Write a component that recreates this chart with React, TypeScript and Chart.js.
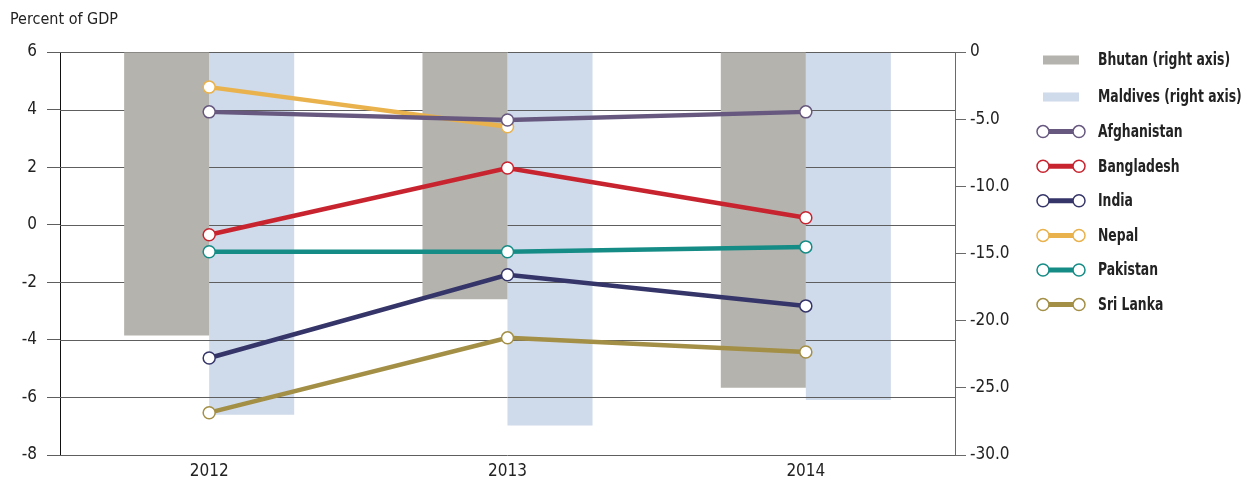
import React, { useEffect, useRef } from 'react';
import { Chart, registerables } from 'chart.js';
Chart.register(...registerables);

const years = ['2012', '2013', '2014'];
// right axis (bars)
const bhutan = [-21.1, -18.4, -25.0];
const maldives = [-27.0, -27.8, -25.9];
// left axis (lines)
const afghanistan = [3.92, 3.64, 3.92];
const bangladesh = [-0.35, 1.97, 0.24];
const india = [-4.63, -1.74, -2.82];
const nepal = [4.78, 3.4, null];
const pakistan = [-0.94, -0.94, -0.77];
const sriLanka = [-6.53, -3.93, -4.42];

const leftMin = -8, leftMax = 6, leftStep = 2;
const rightMin = -30, rightMax = 0, rightStep = 5;

const titleText = 'Percent of GDP';
const FONT = "'Liberation Sans Narrow', 'DejaVu Sans Condensed', 'Roboto', sans-serif";

const lineSeries = [
  { label: 'Afghanistan', data: afghanistan, color: '#66587f' },
  { label: 'Bangladesh', data: bangladesh, color: '#c8242f' },
  { label: 'India', data: india, color: '#35356a' },
  { label: 'Nepal', data: nepal, color: '#e9b24c' },
  { label: 'Pakistan', data: pakistan, color: '#168c86' },
  { label: 'Sri Lanka', data: sriLanka, color: '#a38f45' },
];

const gridPlugin = {
  id: 'midGrid',
  afterDatasetDraw(chart: any, args: any) {
    if (args.index !== 1) return;
    const { ctx, chartArea } = chart;
    const y = chart.scales.y;
    ctx.save();
    ctx.strokeStyle = '#5e5e5e';
    ctx.lineWidth = 1;
    y.ticks.forEach((t: any) => {
      const py = Math.round(y.getPixelForValue(t.value)) + 0.5;
      ctx.beginPath();
      ctx.moveTo(chartArea.left, py);
      ctx.lineTo(chartArea.right, py);
      ctx.stroke();
    });
    ctx.restore();
  },
};

const decorPlugin = {
  id: 'decor',
  afterDraw(chart: any) {
    const { ctx, chartArea } = chart;
    ctx.save();
    // title
    ctx.font = `16px ${FONT}`;
    ctx.fillStyle = '#222';
    ctx.textBaseline = 'middle';
    ctx.textAlign = 'left';
    ctx.fillText(titleText, 10, 20);
    // legend
    const x0 = chartArea.right + 88;
    const x1 = chartArea.right + 124;
    const tx = chartArea.right + 143;
    chart.data.datasets.forEach((ds: any, i: number) => {
      const yy = i === 0 ? chartArea.top + 8 : chartArea.top + 45 + (i - 1) * 34.6;
      if (ds.type === 'bar') {
        ctx.fillStyle = ds.backgroundColor;
        ctx.fillRect(x0, yy - 4.5, x1 - x0, 9);
      } else {
        ctx.strokeStyle = ds.borderColor;
        ctx.lineWidth = 5;
        ctx.beginPath();
        ctx.moveTo(x0, yy);
        ctx.lineTo(x1, yy);
        ctx.stroke();
        [x0, x1].forEach((cx) => {
          ctx.beginPath();
          ctx.arc(cx, yy, 6, 0, Math.PI * 2);
          ctx.fillStyle = '#fff';
          ctx.fill();
          ctx.lineWidth = 1.5;
          ctx.stroke();
        });
      }
      ctx.save();
      ctx.translate(tx, yy + 1);
      ctx.scale(0.81, 1);
      ctx.fillStyle = '#222';
      ctx.font = `bold 17px ${FONT}`;
      ctx.textBaseline = 'middle';
      ctx.fillText(ds.label, 0, 0);
      ctx.restore();
    });
    ctx.restore();
  },
};

export default function App() {
  const ref = useRef<HTMLCanvasElement>(null);
  useEffect(() => {
    document.body.style.margin = '0';
    const chart = new Chart(ref.current as HTMLCanvasElement, {
      type: 'bar',
      data: {
        labels: years,
        datasets: [
          {
            type: 'bar', label: 'Bhutan (right axis)', data: bhutan, yAxisID: 'y2',
            backgroundColor: '#b5b3ad', borderWidth: 0, order: 2,
            categoryPercentage: 0.57, barPercentage: 1.0,
          } as any,
          {
            type: 'bar', label: 'Maldives (right axis)', data: maldives, yAxisID: 'y2',
            backgroundColor: '#cfdaea', borderWidth: 0, order: 3,
            categoryPercentage: 0.57, barPercentage: 1.0,
          } as any,
          ...lineSeries.map((s) => ({
            type: 'line', label: s.label, data: s.data, yAxisID: 'y',
            borderColor: s.color, backgroundColor: '#fff', borderWidth: 4.5,
            pointRadius: 6, pointBorderWidth: 1.5, pointBackgroundColor: '#fff',
            pointBorderColor: s.color, tension: 0, order: 1, spanGaps: false,
          } as any)),
        ],
      },
      options: {
        responsive: false,
        animation: false,
        font: { family: FONT },
        layout: { padding: { left: 0, right: 232, top: 52, bottom: 0 } },
        plugins: { legend: { display: false }, tooltip: { enabled: false }, title: { display: false } },
        scales: {
          x: {
            type: 'category', offset: true,
            grid: { display: false, drawTicks: false },
            border: { display: false },
            ticks: { font: { family: FONT, size: 17 }, color: '#222', padding: 6, maxRotation: 0 },
            afterFit: (s: any) => { s.height = 25; },
          },
          y: {
            type: 'linear', position: 'left', min: leftMin, max: leftMax,
            ticks: { stepSize: leftStep, font: { family: FONT, size: 17 }, color: '#222', padding: 10 },
            grid: { drawOnChartArea: false, drawTicks: true, tickLength: 13, color: '#5e5e5e' },
            border: { display: true, color: '#111', width: 1 },
            afterFit: (s: any) => { s.width = 60; },
          },
          y2: {
            type: 'linear', position: 'right', min: rightMin, max: rightMax,
            ticks: {
              stepSize: rightStep, font: { family: FONT, size: 17 }, color: '#222', padding: 4,
              callback: (v: any) => (Number(v) === 0 ? '0' : Number(v).toFixed(1)),
            },
            grid: { drawOnChartArea: false, drawTicks: true, tickLength: 11, color: '#6a6a6a' },
            border: { display: true, color: '#6a6a6a', width: 1 },
            afterFit: (s: any) => { s.width = 60; },
          },
        },
      } as any,
      plugins: [gridPlugin, decorPlugin],
    });
    return () => chart.destroy();
  }, []);
  return <canvas ref={ref} width={1247} height={480} />;
}
